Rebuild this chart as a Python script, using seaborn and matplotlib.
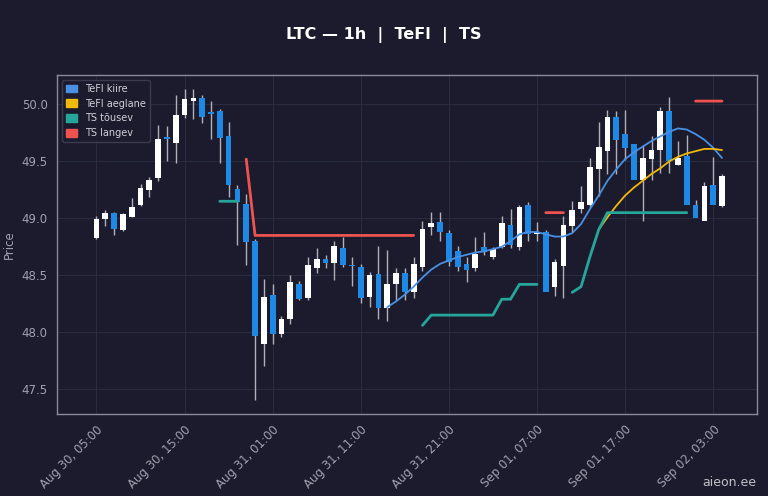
import numpy as np
import pandas as pd
import matplotlib
matplotlib.use("Agg")
import matplotlib.pyplot as plt
from matplotlib.patches import Patch
import seaborn as sns

start = pd.Timestamp("2024-08-30 05:00")
opens  = [48.83,48.99,49.05,48.90,49.01,49.12,49.25,49.35,49.71,49.66,49.91,50.03,50.06,49.93,49.94,49.72,49.26,49.13,48.80,47.90,48.33,47.98,48.12,48.42,48.30,
          48.56,48.64,48.61,48.74,48.59,48.57,48.31,48.51,48.21,48.42,48.52,48.35,48.57,48.92,48.97,48.87,48.71,48.60,48.56,48.75,48.66,48.75,48.94,48.75,49.12,48.86,
          48.88,48.40,48.58,48.93,49.08,49.12,49.43,49.59,49.89,49.74,49.65,49.34,49.52,49.60,49.94,49.47,49.55,49.12,48.98,49.29,49.11]
closes = [48.99,49.05,48.91,49.04,49.10,49.27,49.34,49.70,49.70,49.91,50.05,50.06,49.89,49.92,49.71,49.29,49.14,48.79,47.97,48.31,47.98,48.12,48.44,48.29,48.59,
          48.64,48.61,48.76,48.59,48.58,48.30,48.50,48.21,48.42,48.52,48.35,48.60,48.91,48.96,48.88,48.62,48.57,48.55,48.69,48.70,48.73,48.96,48.77,49.10,48.86,48.88,
          48.35,48.62,48.94,49.07,49.14,49.45,49.63,49.89,49.69,49.62,49.34,49.53,49.60,49.94,49.50,49.53,49.12,49.00,49.28,49.12,49.37]
highs  = [49.02,49.07,49.06,49.05,49.18,49.30,49.36,49.82,49.81,50.08,50.14,50.14,50.08,50.03,49.96,49.85,49.29,49.21,48.82,48.47,48.42,48.14,48.50,48.45,48.66,
          48.74,48.68,48.80,48.84,48.66,48.60,48.53,48.76,48.72,48.56,48.56,48.66,48.98,49.06,49.06,48.90,48.76,48.66,48.84,48.88,48.75,49.02,49.08,49.12,49.14,48.97,
          48.90,48.64,49.02,49.15,49.28,49.53,49.85,49.95,49.94,49.95,49.59,49.64,49.72,49.98,50.07,49.68,49.73,49.16,49.32,49.54,49.39]
lows   = [48.82,48.93,48.85,48.89,49.01,49.11,49.19,49.33,49.50,49.49,49.88,49.87,49.84,49.70,49.49,49.19,48.77,48.59,47.40,47.70,47.90,47.96,48.07,48.28,48.28,
          48.52,48.56,48.46,48.57,48.41,48.26,48.22,48.12,48.10,48.28,48.28,48.30,48.54,48.85,48.80,48.58,48.54,48.44,48.54,48.68,48.64,48.74,48.74,48.72,48.80,48.80,
          48.80,48.32,48.30,48.88,49.05,49.10,49.20,49.39,49.39,49.51,49.35,48.98,49.34,49.40,49.40,49.47,49.40,49.10,48.99,49.20,49.10]

kiire_start = 33
kiire = [48.22,48.27,48.33,48.40,48.48,48.55,48.60,48.63,48.66,48.68,48.70,48.71,48.73,48.75,48.80,48.86,48.88,48.88,48.86,48.84,
         48.84,48.87,48.95,49.08,49.20,49.33,49.43,49.52,49.58,49.63,49.68,49.72,49.76,49.79,49.78,49.74,49.69,49.62,49.53]
aeg_start = 57
aeglane = [48.90,49.01,49.11,49.20,49.27,49.33,49.39,49.44,49.50,49.54,49.57,49.59,49.61,49.61,49.60]
ts_up = {14: 49.15, 15: 49.15, 16: 49.15,
         37: 48.06, 38: 48.15, 39: 48.15, 40: 48.15, 41: 48.15, 42: 48.15, 43: 48.15, 44: 48.15, 45: 48.15,
         46: 48.29, 47: 48.29, 48: 48.42, 49: 48.42, 50: 48.42,
         54: 48.35, 55: 48.40, 56: 48.66, 57: 48.90, 58: 49.05, 59: 49.05, 60: 49.05, 61: 49.05, 62: 49.05,
         63: 49.05, 64: 49.05, 65: 49.05, 66: 49.05, 67: 49.05}
ts_dn = {17: 49.52, **{i: 48.85 for i in range(18, 37)}, 51: 49.05, 52: 49.05, 53: 49.05,
         68: 50.03, 69: 50.03, 70: 50.03, 71: 50.03}

bg = "#1b1b2d"
sns.set_theme(style="dark", rc={"axes.facecolor": bg, "figure.facecolor": bg})
plt.rcParams['font.family'] = ['DejaVu Sans']
fig = plt.figure(figsize=(7.68, 4.96), dpi=100)
ax = fig.add_axes([0.074, 0.165, 0.912, 0.684])
ax.set_facecolor(bg)

n = len(opens)
idx = np.arange(n)
o = np.array(opens); c = np.array(closes)
up = c >= o
ax.vlines(idx, lows, highs, color="#b0b0b8", linewidth=1, zorder=2)
cols = np.where(up, "#ffffff", "#1e88e5")
ax.bar(idx, np.maximum(np.abs(c - o), 0.012), bottom=np.minimum(o, c), width=0.65,
       color=cols, edgecolor="none", linewidth=0, zorder=3)

def segs(d):
    s = pd.Series(d).reindex(range(n))
    return pd.DataFrame({"x": idx, "y": s.values})

dk = pd.DataFrame({"x": np.arange(kiire_start, kiire_start + len(kiire)), "y": kiire})
da = pd.DataFrame({"x": np.arange(aeg_start, aeg_start + len(aeglane)), "y": aeglane})
sns.lineplot(data=dk, x="x", y="y", ax=ax, color="#4a90e2", lw=1.3, zorder=4, legend=False)
sns.lineplot(data=da, x="x", y="y", ax=ax, color="#f0b90b", lw=1.3, zorder=4, legend=False)
du = segs(ts_up); dd = segs(ts_dn)
ax.plot(du.x, du.y, color="#26a69a", lw=2, zorder=4)
ax.plot(dd.x, dd.y, color="#ef5350", lw=2, zorder=4)

ax.set_xlim(-4.5, 75)
ax.set_ylim(47.28, 50.26)
ticks = list(range(0, n, 10))
ax.set_xticks(ticks)
ax.set_xticklabels([(start + pd.Timedelta(hours=t)).strftime("%b %d, %H:%M") for t in ticks],
                   rotation=45, ha="right", rotation_mode="anchor", color="#a0a0b0", fontsize=8.5)
ax.set_yticks([47.5, 48.0, 48.5, 49.0, 49.5, 50.0])
ax.tick_params(axis="y", colors="#a0a0b0", labelsize=8.5)
ax.tick_params(axis="both", length=3, color="#a0a0b0")
ax.grid(True, color="#2a2a40", linewidth=0.8)
ax.set_xlabel("")
ax.set_ylabel("Price", color="#a0a0b0", fontsize=8.5)
for s in ax.spines.values():
    s.set_color("#8a8a9a"); s.set_linewidth(1)
handles = [Patch(color="#4a90e2", label="TeFl kiire"), Patch(color="#f0b90b", label="TeFl aeglane"),
           Patch(color="#26a69a", label="TS tõusev"), Patch(color="#ef5350", label="TS langev")]
ax.legend(handles=handles, loc="upper left", fontsize=7, facecolor=bg, edgecolor="#444458",
          labelcolor="#d0d0d8", handlelength=1.2, handleheight=0.8)
fig.suptitle("LTC — 1h  |  TeFl  |  TS", color="white", fontweight="bold", fontsize=11.5, y=0.945)
fig.text(0.985, 0.015, "aieon.ee", color="#c0c0c8", fontsize=9, ha="right", va="bottom")
fig.savefig("out.png", dpi=100, facecolor=bg)
